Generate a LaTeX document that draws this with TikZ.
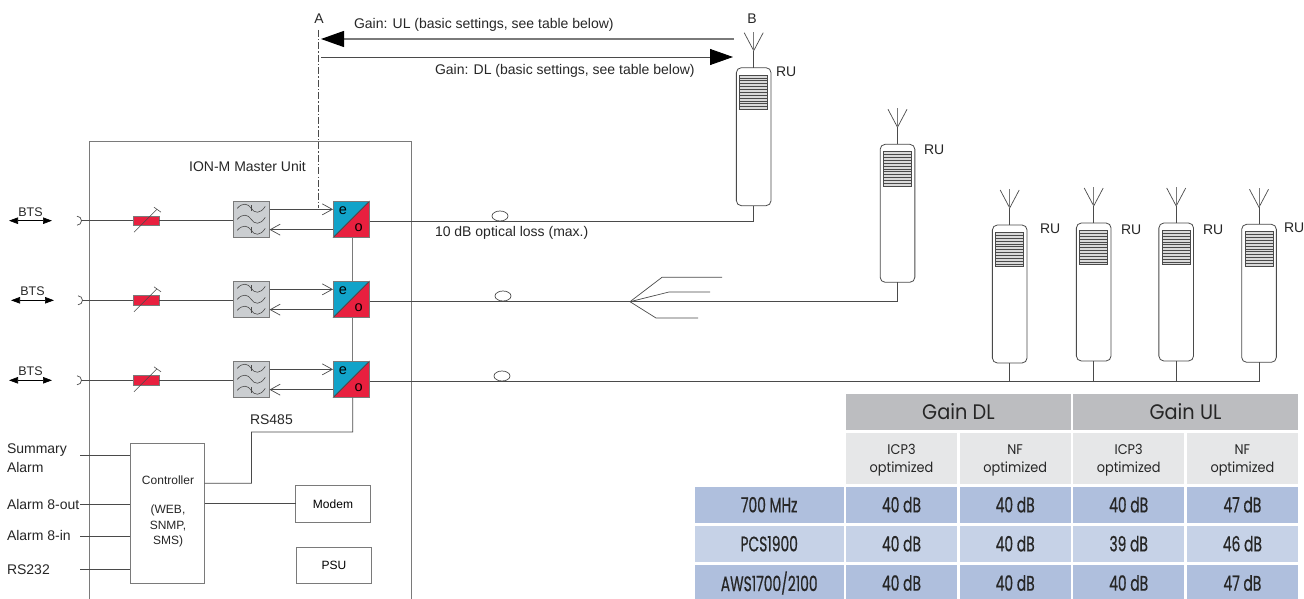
\documentclass[tikz,border=0pt]{standalone}
\usepackage{fontspec}
\setmainfont{Liberation Sans}
\newfontfamily\tblfont[FakeStretch=0.92]{Poppins}
\newfontfamily\tblcond[FakeStretch=0.66,FakeBold=0.5]{Poppins}
\usetikzlibrary{arrows.meta,shapes.geometric}
\definecolor{ln}{HTML}{4A4A4A}
\definecolor{boxln}{HTML}{7A7A7A}
\definecolor{eoblue}{HTML}{12A3C9}
\definecolor{eored}{HTML}{E8203F}
\definecolor{filt}{HTML}{CBCED1}
\definecolor{grl}{HTML}{DADADA}
\definecolor{hdr}{HTML}{BCBDC0}
\definecolor{sub}{HTML}{E6E7E8}
\definecolor{rowa}{HTML}{AFBFDD}
\definecolor{rowb}{HTML}{C6D2E7}
\definecolor{txt}{HTML}{262626}
\tikzset{
  wire/.style={draw=ln,line width=0.8pt},
  lab/.style={inner sep=0pt,outer sep=0pt,text=txt,font=\fontsize{14}{14}\selectfont},
  labl/.style={lab,anchor=west},
  small/.style={inner sep=0pt,outer sep=0pt,text=txt,font=\fontsize{12}{15.3}\selectfont,align=center},
  plain/.style={draw=boxln,line width=0.9pt,fill=white,inner sep=0pt,outer sep=0pt},
  eobox/.style={draw=boxln,line width=0.8pt,fill=eoblue,minimum width=36.7pt,minimum height=36.7pt,inner sep=0pt,outer sep=0pt},
  filtbox/.style={draw=boxln,line width=0.8pt,fill=filt,minimum width=36.5pt,minimum height=36.7pt,inner sep=0pt,outer sep=0pt},
  attbox/.style={draw=boxln,line width=0.8pt,fill=eored,minimum width=26pt,minimum height=9.3pt,inner sep=0pt,outer sep=0pt},
  ruhouse/.style={draw=ln,line width=0.8pt,fill=white,rounded corners=5pt,minimum width=34.7pt,minimum height=138pt,inner sep=0pt,outer sep=0pt},
  grill/.style={draw=ln,line width=0.6pt,fill=grl,minimum width=28pt,minimum height=34.4pt,inner sep=0pt,outer sep=0pt},
  loopc/.style={ellipse,draw=ln,line width=0.7pt,fill=white,minimum width=16pt,minimum height=10pt,inner sep=0pt,outer sep=0pt},
  open/.style={-{Straight Barb[length=10pt,width=11pt,line width=0.7pt]}},
  bigtip/.style={-{Triangle[length=23pt,width=16pt,color=black]}},
  btsarrow/.style={{Triangle[length=9pt,width=6.5pt]}-{Triangle[length=9pt,width=6.5pt]},draw=black,line width=0.7pt},
  cell/.style={inner sep=0pt,outer sep=0pt,text=txt,align=center},
  cn/.style={cell,minimum width=111.3pt},
  hd/.style={cell,fill=hdr,minimum width=225pt,minimum height=36pt,font=\tblfont\fontsize{21}{21}\selectfont},
  sb/.style={cn,fill=sub,minimum height=51.5pt},
  sbt/.style={cell,font=\tblfont\fontsize{14}{18}\selectfont},
  ra/.style={cn,fill=rowa,minimum height=36pt,font=\tblcond\fontsize{21}{21}\selectfont},
  rb/.style={cn,fill=rowb,minimum height=36pt,font=\tblcond\fontsize{21}{21}\selectfont},
  ral/.style={ra,minimum width=149pt},
  rbl/.style={rb,minimum width=149pt},
}
% #1 name, #2 centre x, #3 top y of housing, #4 label x, #5 label y
\newcommand{\ruunit}[5]{%
  \node[ruhouse] (#1) at (#2,#3+69) {};
  \node[grill] (#1g) at (#2,#3+24.5) {};
  \foreach \k in {1,...,11}{\draw[draw=ln,line width=0.5pt] ([yshift=-\k*2.87pt]#1g.north west) -- ([yshift=-\k*2.87pt]#1g.north east);}
  \coordinate (#1j) at (#2,#3-17);
  \coordinate (#1a) at (#2-9.5,#3-35);
  \coordinate (#1b) at (#2+9.5,#3-35);
  \coordinate (#1c) at (#2,#3-36);
  \draw[wire] (#1.north) -- (#1j);
  \draw[wire,line width=0.7pt] (#1a) -- (#1j) -- (#1b);
  \draw[draw=boxln,line width=0.6pt] (#1j) -- (#1c);
  \node[labl] (#1l) at (#4,#5) {RU};
}
% #1 n, #2 filter centre y, #3 input wire y, #4 bts x offset, #5 loop x, #6 loop y
\newcommand{\murow}[6]{%
  \node[filtbox] (fil#1) at (251.25,#2) {};
  \node[eobox] (eo#1) at (351.35,#2) {};
  \fill[eored] (eo#1.north east) -- (eo#1.south east) -- (eo#1.south west) -- cycle;
  \draw[draw=ln,line width=0.8pt] (eo#1.north east) -- (eo#1.south west);
  \draw[draw=boxln,line width=0.8pt] (eo#1.north west) rectangle (eo#1.south east);
  \node[font=\fontsize{14.5}{14.5}\selectfont,inner sep=0pt] (eo#1e) at (343,#2-8.5) {e};
  \node[font=\fontsize{14.5}{14.5}\selectfont,inner sep=0pt] (eo#1o) at (358.7,#2+8) {o};
  \foreach \yy/\tk in {-11/1,0/0,11/1}{
    \draw[draw=ln,line width=0.6pt] (251.25-14,#2+\yy) .. controls (251.25-9,#2+\yy-6) and (251.25-3,#2+\yy-5) .. (251.25,#2+\yy) .. controls (251.25+3,#2+\yy+5) and (251.25+9,#2+\yy+6) .. (251.25+14,#2+\yy-2);
    \ifnum\tk=1 \draw[draw=ln,line width=0.5pt] (251.25,#2+\yy-3) -- (251.25,#2+\yy+3);\fi
  }
  \draw[wire,open] (fil#1.east |- 0,#2-10) -- (eo#1.west |- 0,#2-10);
  \draw[wire,open] (eo#1.west |- 0,#2+10.3) -- (fil#1.east |- 0,#2+10.3);
  \node[attbox] (att#1) at (146.3,#3) {};
  \coordinate (tin#1) at (81+#4*0.5,#3);
  \draw[wire] (tin#1) -- (att#1.west);
  \draw[wire] (att#1.east) -- (fil#1.west |- att#1);
  \draw[draw=ln,line width=0.7pt] (tin#1) ++(-4,-4.5) arc[start angle=90,end angle=-90,radius=4.5pt];
  \draw[draw=ln,line width=0.6pt] (134,#3+11.5) -- (157,#3-11.5);
  \draw[draw=ln,line width=0.6pt] (154,#3-13.5) -- (161,#3-8.5);
  \node[lab] (bts#1) at (30.5+#4,#3-8.7) {\fontsize{12.5}{12.5}\selectfont BTS};
  \coordinate (ba#1) at (9+#4,#3);
  \coordinate (bb#1) at (52+#4,#3);
  \draw[btsarrow] (ba#1) -- (bb#1);
  \node[loopc] (ol#1) at (#5,#6) {};
}
\newcommand{\subcell}[3]{%
  \node[sb] (#1) at (#2,458.5) {};
  \node[sbt] (#1t) at (#2,460.5) {#3\\optimized};
}
\begin{document}
\begin{tikzpicture}[x=1pt,y=-1pt]
\useasboundingbox (0,0) rectangle (1304,599);
% master unit (open at the bottom)
\draw[draw=boxln,line width=0.9pt] (89,599) -- (89,141) -- (411.7,141) -- (411.7,599);
\node[lab] (mu) at (247.5,166) {ION-M Master Unit};
% A / B reference
\node[lab] (A) at (319,19) {A};
\node[lab] (B) at (752,19) {B};
\coordinate (dda) at (318,30);
\coordinate (ddb) at (318,208);
\draw[draw=ln,line width=0.6pt,dash pattern=on 7pt off 2pt on 1.5pt off 2pt] (dda) -- (ddb);
% rows
\murow{1}{219.35}{220.7}{0}{500}{216}
\murow{2}{299.35}{300.3}{2}{503}{296}
\murow{3}{379.35}{380.3}{0}{502}{376}
% RU units
\ruunit{ru1}{753.7}{67.7}{776}{72}
\ruunit{ru2}{897.5}{144.3}{924}{150}
\ruunit{ru3}{1009.7}{225}{1040}{229}
\ruunit{ru4}{1093.7}{223}{1121}{230}
\ruunit{ru5}{1176.2}{223}{1203}{230}
\ruunit{ru6}{1259}{224.3}{1284}{228}
% gain arrows
\coordinate (ulstart) at (734,39);
\coordinate (ulend) at (321,39);
\coordinate (dlstart) at (321,57);
\coordinate (dlend) at (733,57);
\draw[draw=boxln,line width=1.3pt,bigtip] (ulstart) -- (ulend);
\draw[draw=ln,line width=0.9pt,bigtip] (dlstart) -- (dlend);
\node[labl] (ult) at (354,25) {Gain: UL (basic settings, see table below)};
\node[labl] (dlt) at (435,71) {Gain: DL (basic settings, see table below)};
\node[labl] (olt) at (435,233) {10 dB optical loss (max.)};
% fibres
\draw[wire] (eo1.east |- ol1.south) -| (ru1.south);
\draw[wire] (eo2.east |- ol2.south) -| (ru2.south);
\coordinate (spl) at (630,301.7);
\coordinate (s1a) at (662,277.3); \coordinate (s1b) at (722,277.3);
\coordinate (s2a) at (669,292);   \coordinate (s2b) at (710,292);
\coordinate (s3a) at (656,318);   \coordinate (s3b) at (698,318);
\draw[draw=ln,line width=0.7pt] (spl) -- (s1a) -- (s1b);
\draw[draw=ln,line width=0.7pt] (spl) -- (s2a) -- (s2b);
\draw[draw=ln,line width=0.7pt] (spl) -- (s3a) -- (s3b);
\draw[wire] (eo3.east |- ol3.south) -| (ru6.south);
\draw[wire] (ru3.south) -- (ru3.south |- ol3.south);
\draw[wire] (ru4.south) -- (ru4.south |- ol3.south);
\draw[wire] (ru5.south) -- (ru5.south |- ol3.south);
% control part
\node[plain,minimum width=74.4pt,minimum height=140.4pt] (ctl) at (167.5,513.5) {};
\node[plain,minimum width=74.6pt,minimum height=36.3pt] (modem) at (333,503.85) {\fontsize{12}{12}\selectfont Modem};
\node[plain,minimum width=74.6pt,minimum height=36.4pt] (psu) at (334,565.5) {\fontsize{12}{12}\selectfont PSU};
\node[small] (ctlt1) at (168,480) {Controller};
\node[small] (ctlt2) at (168,526) {(WEB,\\SNMP,\\SMS)};
\draw[draw=boxln,line width=0.9pt] ([xshift=1.3pt]eo1.south) -- ([xshift=1.3pt]eo2.north);
\draw[draw=boxln,line width=0.9pt] ([xshift=1.3pt]eo2.south) -- ([xshift=1.3pt]eo3.north);
\coordinate (rsa) at (352.7,432);
\coordinate (rsb) at (251.5,432);
\coordinate (rsc) at (251.5,483.3);
\draw[wire] ([xshift=1.3pt]eo3.south) -- (rsa) -- (rsb) -- (rsc) -- (ctl.east |- rsc);
\node[labl] (rs485) at (250,420) {RS485};
\draw[wire] (ctl.east |- modem) -- (modem.west);
\node[labl] (sa) at (7,450) {Summary};
\node[labl] (sb) at (7,467) {Alarm};
\node[labl] (ao) at (7,504) {Alarm 8-out};
\node[labl] (ai) at (7,535.5) {Alarm 8-in};
\node[labl] (rs) at (7,569.5) {RS232};
\coordinate (w1) at (80,455.3);
\coordinate (w2) at (80,504.3);
\coordinate (w3) at (80,536.3);
\coordinate (w4) at (80,569.7);
\draw[wire] (w1) -- (ctl.west |- w1);
\draw[wire] (w2) -- (ctl.west |- w2);
\draw[wire] (w3) -- (ctl.west |- w3);
\draw[wire] (w4) -- (ctl.west |- w4);
% table
\node[hd] (hdl) at (958.4,412) {Gain DL};
\node[hd] (hul) at (1185.5,412) {Gain UL};
\subcell{s1}{901.5}{ICP3}
\subcell{s2}{1015.2}{NF}
\subcell{s3}{1128.7}{ICP3}
\subcell{s4}{1242.4}{NF}
\node[ral] (l1) at (769.2,504.7) {700 MHz};
\node[ra] (a1) at (901.5,504.7) {40 dB};
\node[ra] (a2) at (1015.2,504.7) {40 dB};
\node[ra] (a3) at (1128.7,504.7) {40 dB};
\node[ra] (a4) at (1242.4,504.7) {47 dB};
\node[rbl] (l2) at (769.2,543.7) {PCS1900};
\node[rb] (b1) at (901.5,543.7) {40 dB};
\node[rb] (b2) at (1015.2,543.7) {40 dB};
\node[rb] (b3) at (1128.7,543.7) {39 dB};
\node[rb] (b4) at (1242.4,543.7) {46 dB};
\node[ral] (l3) at (769.2,583) {AWS1700/2100};
\node[ra] (c1) at (901.5,583) {40 dB};
\node[ra] (c2) at (1015.2,583) {40 dB};
\node[ra] (c3) at (1128.7,583) {40 dB};
\node[ra] (c4) at (1242.4,583) {47 dB};
\end{tikzpicture}
\end{document}
